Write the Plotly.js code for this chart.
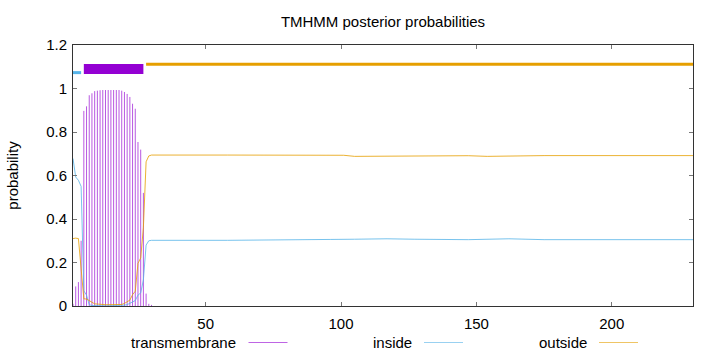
<!DOCTYPE html>
<html>
<head>
<meta charset="utf-8">
<script src="https://cdn.plot.ly/plotly-3.0.1.min.js"></script>
<style>html,body{margin:0;padding:0;background:#fff;}#chart{width:720px;height:352px;}</style>
</head>
<body>
<div id="chart"></div>
<script>
// ---- data ----
const residues = [1,2,3,4,5,6,7,8,9,10,11,12,13,14,15,16,17,18,19,20,21,22,23,24,25,26,27,28,29,30];
const tmProb = [0.01,0.09,0.11,0.30,0.897,0.918,0.969,0.978,0.988,0.99,0.992,0.993,0.993,0.993,0.993,0.993,0.993,0.993,0.99,0.984,0.975,0.961,0.93,0.907,0.754,0.719,0.52,0.057,0.01,0.005];
const insideProb = [0.678,0.593,0.578,0.55,0.07,0.05,0.006,0.002,0.002,0.001,0.001,0.001,0.001,0.001,0.001,0.001,0.001,0.002,0.003,0.004,0.006,0.012,0.018,0.025,0.05,0.06,0.12,0.28,0.30,0.302];
const outsideProb = [0.31,0.312,0.31,0.15,0.033,0.032,0.025,0.02,0.01,0.009,0.007,0.006,0.006,0.006,0.006,0.006,0.006,0.006,0.007,0.012,0.019,0.027,0.052,0.068,0.196,0.221,0.36,0.663,0.69,0.694];
// plateau (after residue 30)
const insideTailX = [58,90,96,105,117,127,140,147,162,175,230];
const insideTailY = [0.302,0.303,0.306,0.307,0.309,0.307,0.307,0.305,0.309,0.305,0.305];
const outsideTailX = [58,101,105,117,124,147,154,162,175,230];
const outsideTailY = [0.694,0.693,0.688,0.689,0.691,0.691,0.688,0.689,0.6915,0.6915];
// predicted topology
const topRegions = ['inside','TMhelix','outside'];
const topStart = [1,5,28];
const topEnd = [4,27,230];
const seriesNames = ['transmembrane','inside','outside'];
const xTicks = [50,100,150,200];
const yTicks = [0,0.2,0.4,0.6,0.8,1,1.2];

// ---- style ----
const C = {tm:'#9400D3', inside:'#56B4E9', outside:'#E69F00'};
const topStyle = {inside:{y:1.073,w:3,c:C.inside}, TMhelix:{y:1.09,w:10,c:C.tm}, outside:{y:1.111,w:3,c:C.outside}};
const FONT = 'Liberation Sans, Arial, Helvetica, sans-serif';

const traces = [];
// impulses
const ix = [], iy = [];
residues.forEach((r,i)=>{ ix.push(r,r,null); iy.push(0,tmProb[i],null); });
traces.push({type:'scatter',mode:'lines',x:ix,y:iy,line:{color:C.tm,width:1},opacity:0.65,showlegend:false,hoverinfo:'skip'});
traces.push({type:'scatter',mode:'lines',x:residues.concat(insideTailX),y:insideProb.concat(insideTailY),line:{color:C.inside,width:1},opacity:0.8,showlegend:false});
traces.push({type:'scatter',mode:'lines',x:residues.concat(outsideTailX),y:outsideProb.concat(outsideTailY),line:{color:C.outside,width:1},opacity:0.8,showlegend:false});
topRegions.forEach((t,i)=>{
  const s = topStyle[t];
  traces.push({type:'scatter',mode:'lines',x:[topStart[i],topEnd[i]],y:[s.y,s.y],line:{color:s.c,width:s.w},showlegend:false,hoverinfo:'skip'});
});

// custom gnuplot-like legend (text then sample line)
const L = 73, W = 620, T = 45, H = 261;
const px2x = p => (p-L)/W, py2y = p => (T+H-p)/H;
const legendTextRight = [238.5, 414, 589];
const legendColors = [C.tm, C.inside, C.outside];
const annotations = [], shapes = [];
seriesNames.forEach((n,i)=>{
  annotations.push({text:n,xref:'paper',yref:'paper',x:px2x(legendTextRight[i]),y:py2y(342),xanchor:'right',yanchor:'middle',showarrow:false,font:{family:FONT,size:15,color:'#000'}});
  shapes.push({type:'line',xref:'paper',yref:'paper',x0:px2x(legendTextRight[i]+10),x1:px2x(legendTextRight[i]+49),y0:py2y(342.5),y1:py2y(342.5),line:{color:legendColors[i],width:1},opacity:0.6});
});

const axisCommon = {showline:true,mirror:'ticks',linecolor:'#333',linewidth:1,ticks:'inside',ticklen:4,tickcolor:'#777',showgrid:false,zeroline:false,tickfont:{family:FONT,size:15,color:'#000'}};
const layout = {
  width:720,height:352,margin:{l:73,r:27,t:45,b:46},
  paper_bgcolor:'#fff',plot_bgcolor:'#fff',showlegend:false,
  title:{text:'TMHMM posterior probabilities',font:{family:FONT,size:15,color:'#000'},x:0.5,xref:'paper',y:1-22/352,yref:'container',yanchor:'middle'},
  xaxis:Object.assign({},axisCommon,{range:[1,230],tickvals:xTicks,ticktext:xTicks.map(String),ticklabelstandoff:4}),
  yaxis:Object.assign({},axisCommon,{range:[0,1.2],tickvals:yTicks,ticktext:yTicks.map(String),ticklabelstandoff:2,title:{text:'probability',font:{family:FONT,size:15,color:'#000'},standoff:23}}),
  annotations:annotations,shapes:shapes
};
Plotly.newPlot('chart',traces,layout,{staticPlot:true,displayModeBar:false});
</script>
</body>
</html>
